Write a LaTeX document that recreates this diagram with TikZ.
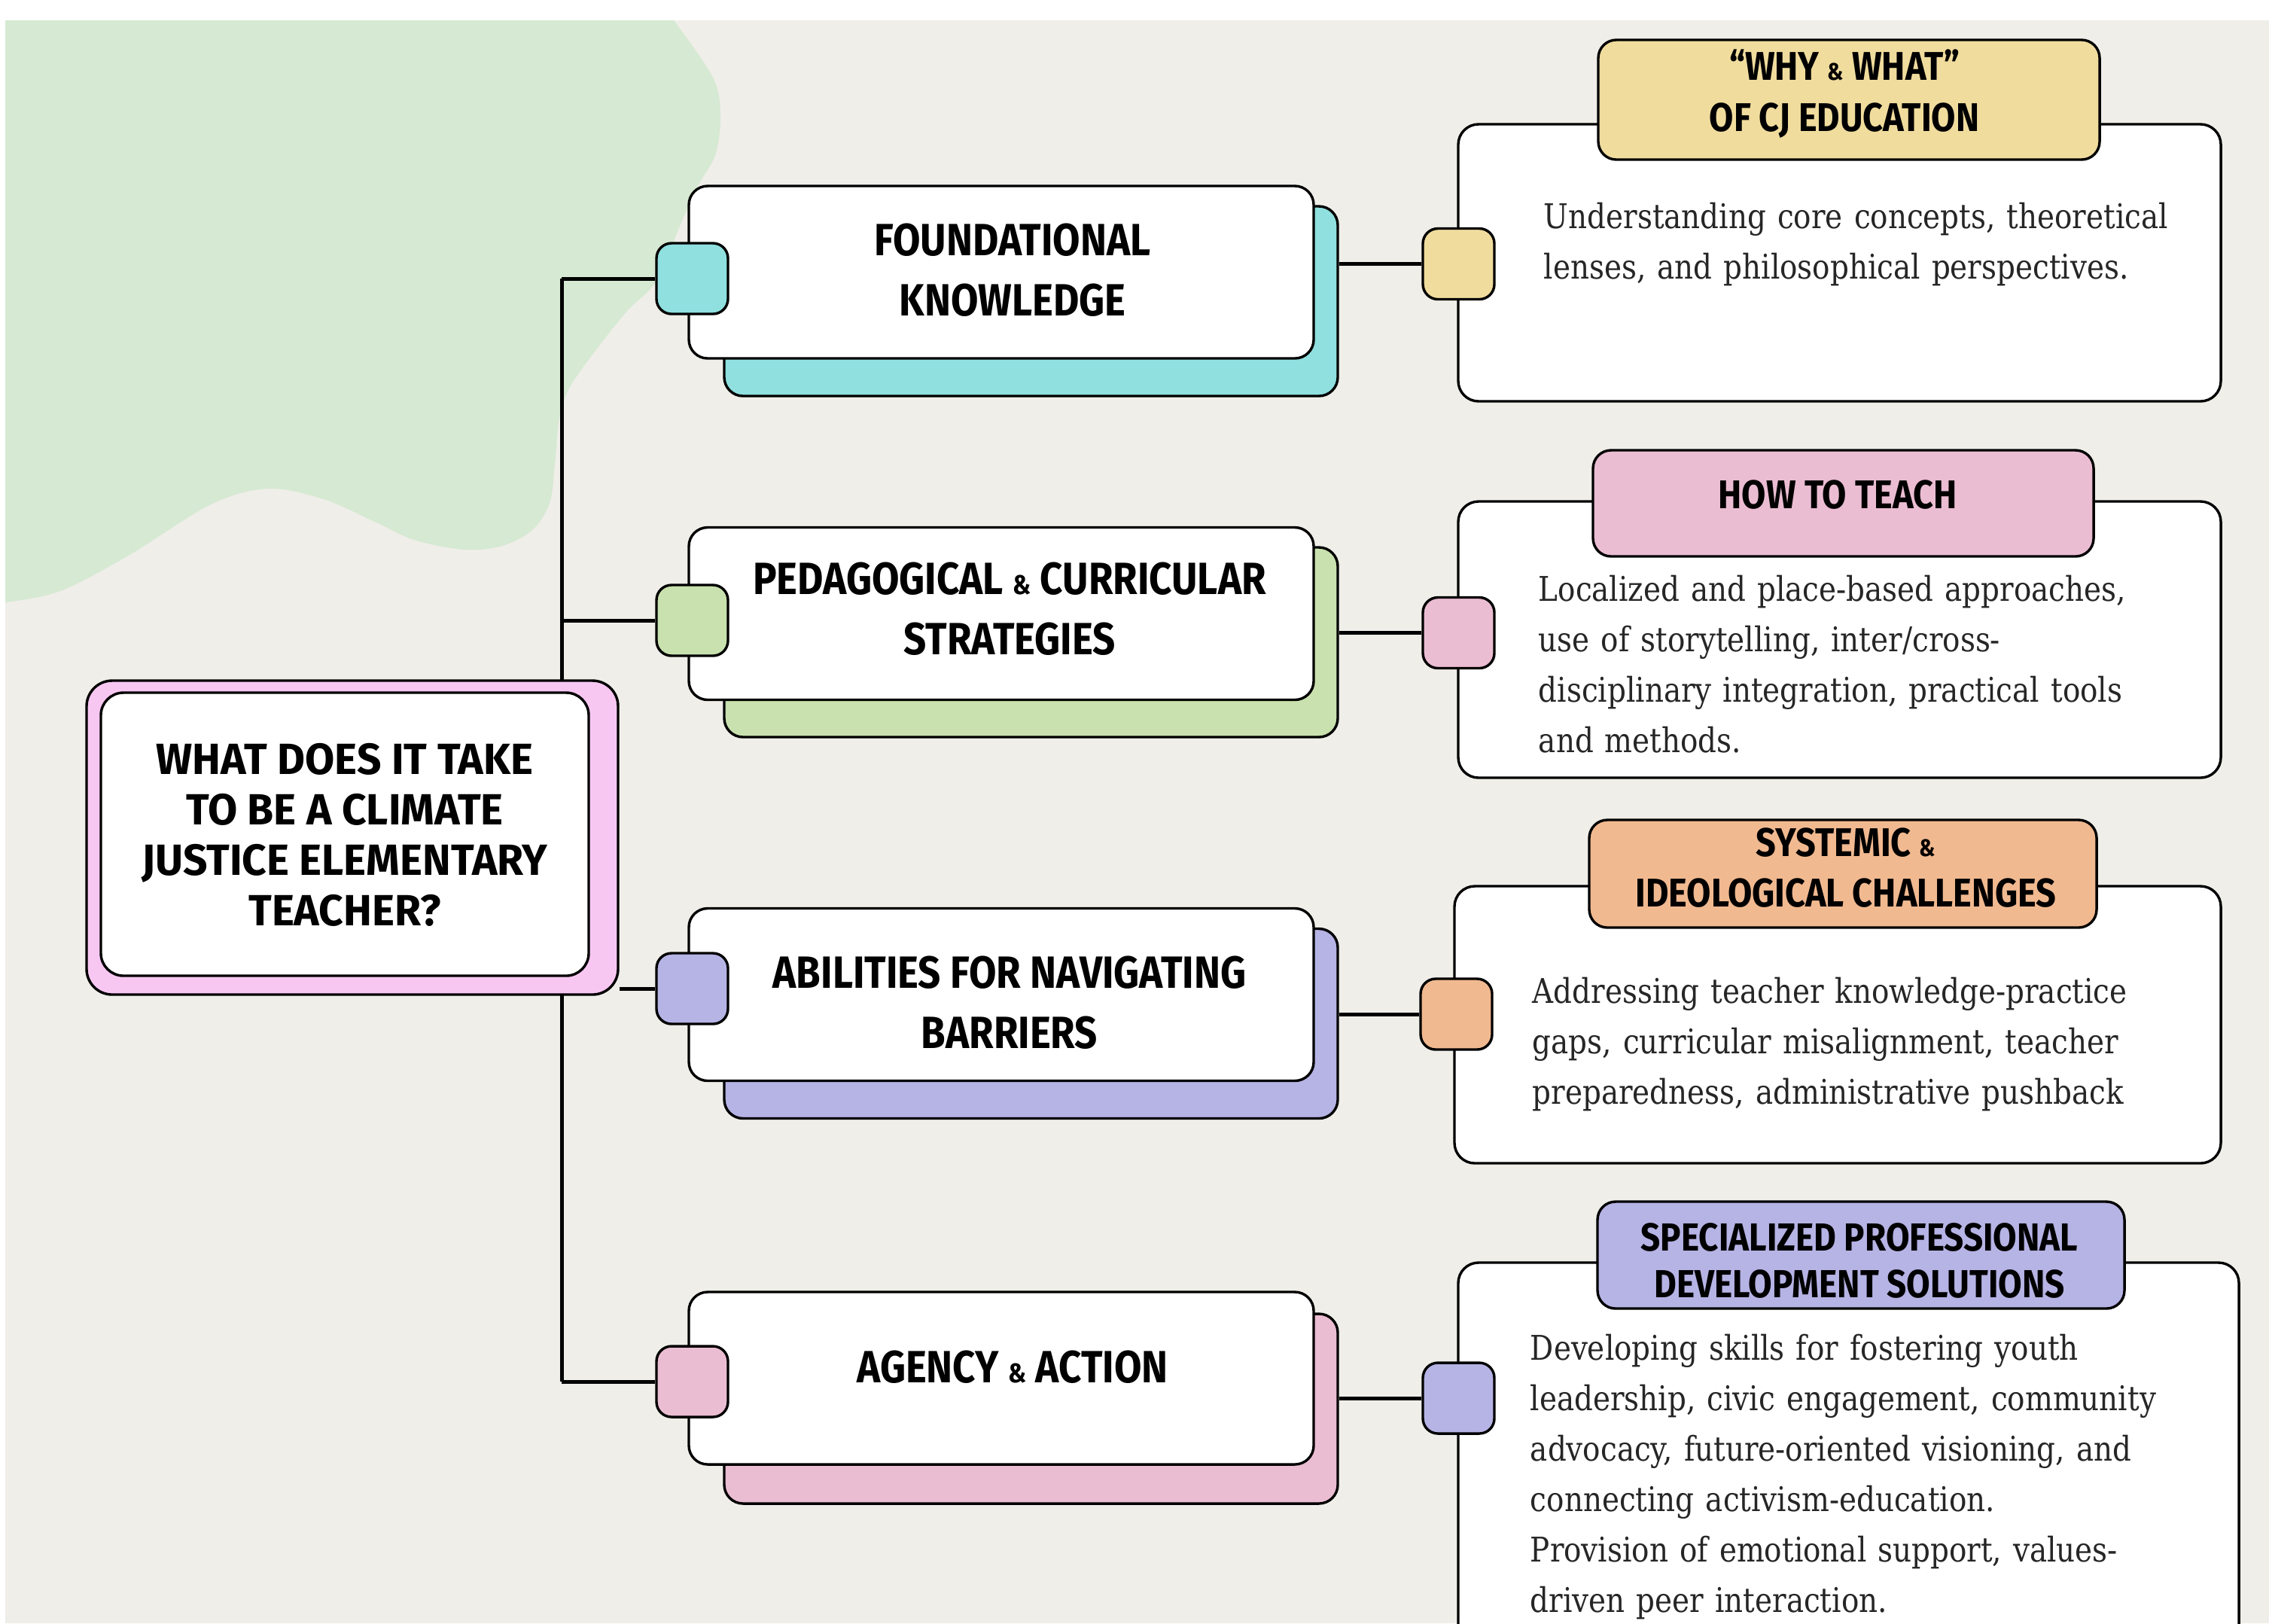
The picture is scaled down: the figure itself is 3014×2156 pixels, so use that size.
\documentclass[tikz,border=0pt]{standalone}
\usepackage{fontspec}
\setmainfont{DejaVu Serif}[FakeStretch=0.86]
\newfontfamily\headfont{Fira Sans}[FakeStretch=0.88]
\newfontfamily\qfont{Fira Sans}[FakeStretch=0.98]
\newfontfamily\bodyfont{DejaVu Serif}[FakeStretch=0.86]
\newcommand\samp{\scalebox{0.6}{\&}}
\definecolor{bgc}{HTML}{EFEEE9}
\definecolor{blobc}{HTML}{D6E9D2}
\definecolor{tealc}{HTML}{8FE0DF}
\definecolor{greenc}{HTML}{C9E1AE}
\definecolor{lavc}{HTML}{B6B3E5}
\definecolor{pinkc}{HTML}{EBBDD2}
\definecolor{mainpink}{HTML}{F7C7F2}
\definecolor{yellowc}{HTML}{F0DC9D}
\definecolor{orangec}{HTML}{F1B990}
\pgfdeclarelayer{back}
\pgfdeclarelayer{lines}
\pgfsetlayers{back,lines,main}
\tikzset{
  outl/.style={draw=black, line width=0.85pt},
  conn/.style={draw=black, line width=1.25pt},
  wbox/.style={outl, fill=white, rounded corners=6.25pt, minimum width=207.5pt, minimum height=57.25pt, inner sep=0pt},
  shad/.style={outl, rounded corners=6.25pt, minimum width=203.75pt, minimum height=63pt, inner sep=0pt},
  sq/.style={outl, rounded corners=5pt, minimum width=23.75pt, minimum height=23.5pt, inner sep=0pt},
  rbox/.style={outl, fill=white, rounded corners=6.75pt, inner sep=0pt},
  hbox/.style={outl, rounded corners=6pt, inner sep=0pt},
  headL/.style={font=\headfont\bfseries\fontsize{15}{20}\selectfont, align=center, inner sep=0pt},
  headM/.style={font=\qfont\bfseries\fontsize{14.5}{16.7}\selectfont, align=center, inner sep=0pt},
  headR/.style={font=\headfont\bfseries\fontsize{13.3}{17}\selectfont, align=center, inner sep=0pt},
  body/.style={font=\bodyfont\fontsize{11.3}{16.75}\selectfont, text=black!85, anchor=base west, text width=300pt, align=left, inner sep=0pt},
}
\begin{document}
\begin{tikzpicture}[x=0.25pt, y=-0.25pt]
\clip (0,0) rectangle (3014,2156);
\begin{pgfonlayer}{back}
\fill[white] (0,0) rectangle (3014,2156);
\fill[bgc] (7,27) rectangle (3014,2156);
\fill[blobc] (7,27) -- plot[smooth, tension=0.55] coordinates {(895,27) (947,103) (957,154) (950,206) (927,247) (903,300) (873,372) (833,413) (793,463) (757,514) (743,555) (737,617) (730,668) (707,704) (667,725) (617,730) (550,717) (500,694) (430,663) (356,649) (280,670) (172,737) (80,785) (7,800)} -- cycle;
\end{pgfonlayer}

% trunk
\coordinate (tTop) at (746,370);
\coordinate (tBot) at (746,1835);

% central question
\node[outl, fill=mainpink, rounded corners=8.5pt, minimum width=176.5pt, minimum height=104.25pt, inner sep=0pt] (mainO) at (468,1112.5) {};
\node[outl, fill=white, rounded corners=7.5pt, minimum width=162pt, minimum height=94pt, inner sep=0pt] (mainI) at (458,1108) {};
\node[headM] (question) at (458,1109) {WHAT DOES IT TAKE\\TO BE A CLIMATE\\JUSTICE ELEMENTARY\\TEACHER?};

% left branches
\node[shad, fill=tealc] (fkS) at (1369.5,400) {};
\node[wbox] (fk) at (1330,361.5) {};
\node[sq, fill=tealc] (fkQ) at (919.5,370) {};
\node[headL] (fkT) at (1345,358.5) {FOUNDATIONAL\\KNOWLEDGE};

\node[shad, fill=greenc] (pcS) at (1369.5,853) {};
\node[wbox] (pc) at (1330,815) {};
\node[sq, fill=greenc] (pcQ) at (919.5,824) {};
\node[headL] (pcT) at (1341,808.5) {PEDAGOGICAL \samp{} CURRICULAR\\STRATEGIES};

\node[shad, fill=lavc] (abS) at (1369.5,1359.5) {};
\node[wbox] (ab) at (1330,1321) {};
\node[sq, fill=lavc] (abQ) at (919.5,1313) {};
\node[headL] (abT) at (1341,1331.5) {ABILITIES FOR NAVIGATING\\BARRIERS};

\node[shad, fill=pinkc] (agS) at (1369.5,1871) {};
\node[wbox] (ag) at (1330,1830.5) {};
\node[sq, fill=pinkc] (agQ) at (919.5,1835) {};
\node[headL] (agT) at (1345,1816) {AGENCY \samp{} ACTION};

% right boxes
\node[rbox, minimum width=253.25pt, minimum height=92pt] (r1) at (2443.5,349) {};
\node[hbox, fill=yellowc, minimum width=166.5pt, minimum height=39.75pt] (h1) at (2456,132.5) {};
\node[headR] (h1T) at (2450,125) {“WHY \samp{} WHAT”\\OF CJ EDUCATION};
\node[sq, fill=yellowc] (r1Q) at (1937.5,350.5) {};
\node[body] (r1B) at (2050,303) {Understanding core concepts, theoretical\\lenses, and philosophical perspectives.};

\node[rbox, minimum width=253.25pt, minimum height=91.75pt] (r2) at (2443.5,849.5) {};
\node[hbox, fill=pinkc, minimum width=166.25pt, minimum height=35.25pt] (h2) at (2448.5,668.5) {};
\node[headR] (h2T) at (2441,657) {HOW TO TEACH};
\node[sq, fill=pinkc] (r2Q) at (1937.5,840.5) {};
\node[body] (r2B) at (2043,798) {Localized and place-based approaches,\\use of storytelling, inter/cross-\\disciplinary integration, practical tools\\and methods.};

\node[rbox, minimum width=254.5pt, minimum height=92pt] (r3) at (2441,1361) {};
\node[hbox, fill=orangec, minimum width=168.5pt, minimum height=35.75pt] (h3) at (2448,1160.5) {};
\node[headR, font=\headfont\bfseries\fontsize{13.3}{16.75}\selectfont] (h3T) at (2452,1152.5) {SYSTEMIC \samp{}\\IDEOLOGICAL CHALLENGES};
\node[sq, fill=orangec] (r3Q) at (1934.5,1347) {};
\node[body] (r3B) at (2035,1332) {Addressing teacher knowledge-practice\\gaps, curricular misalignment, teacher\\preparedness, administrative pushback};

\node[rbox, minimum width=259.25pt, minimum height=130.75pt] (r4) at (2455.5,1938.5) {};
\node[hbox, fill=lavc, minimum width=175pt, minimum height=35.5pt] (h4) at (2472,1667) {};
\node[headR, font=\headfont\bfseries\fontsize{13}{15.5}\selectfont] (h4T) at (2470,1674) {SPECIALIZED PROFESSIONAL\\DEVELOPMENT SOLUTIONS};
\node[sq, fill=lavc] (r4Q) at (1937.5,1857) {};
\node[body] (r4B) at (2032,1806) {Developing skills for fostering youth\\leadership, civic engagement, community\\advocacy, future-oriented visioning, and\\connecting activism-education.\\Provision of emotional support, values-\\driven peer interaction.};

% connectors
\begin{pgfonlayer}{lines}
\draw[conn] (tTop) -- (tBot);
\draw[conn] (fkQ.west) -- (fkQ.west -| tTop);
\draw[conn] (pcQ.west) -- (pcQ.west -| tTop);
\draw[conn] (abQ.west) -- (abQ.west -| mainO.east);
\draw[conn] (agQ.west) -- (agQ.west -| tTop);
\draw[conn] (r1Q.west) -- (r1Q.west -| fkS.east);
\draw[conn] (r2Q.west) -- (r2Q.west -| pcS.east);
\draw[conn] (r3Q.west) -- (r3Q.west -| abS.east);
\draw[conn] (r4Q.west) -- (r4Q.west -| agS.east);
\end{pgfonlayer}
\end{tikzpicture}
\end{document}
